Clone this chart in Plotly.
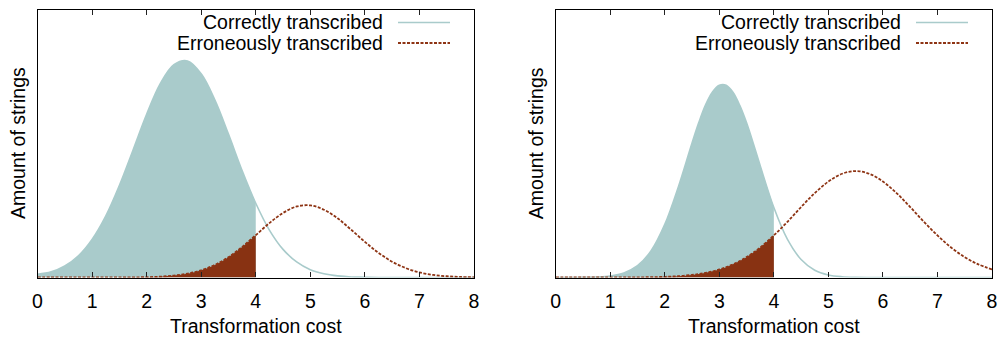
import plotly.graph_objects as go

THRESHOLD = 4.0

# Panel A: amount of strings per transformation cost
cost_a = [0, 0.25, 0.5, 0.75, 1, 1.25, 1.5, 1.75, 2, 2.25, 2.5, 2.75, 3, 3.25, 3.5, 3.75,
          4, 4.25, 4.5, 4.75, 5, 5.25, 5.5, 5.75, 6, 6.25, 6.5, 6.75, 7, 7.25, 7.5, 7.75, 8]
correct_a = [0.012, 0.021, 0.043, 0.081, 0.142, 0.229, 0.343, 0.475, 0.609, 0.723,
             0.794, 0.808, 0.760, 0.663, 0.535, 0.399, 0.277, 0.177, 0.105, 0.058,
             0.029, 0.014, 0.006, 0.002, 0.001, 0.0, 0.0, 0.0, 0.0, 0.0,
             0.0, 0.0, 0.0]
erroneous_a = [0.0, 0.0, 0.0, 0.0, 0.0, 0.0001, 0.0002, 0.0005, 0.0013, 0.0032,
               0.0071, 0.0144, 0.027, 0.047, 0.076, 0.114, 0.158, 0.203, 0.241, 0.265,
               0.269, 0.253, 0.221, 0.178, 0.133, 0.092, 0.059, 0.035, 0.019, 0.0097,
               0.0046, 0.002, 0.0008]

# Panel B (denser sampling around the narrow peak)
cost_b = [0, 0.25, 0.5, 0.75, 1, 1.25, 1.5, 1.75, 2, 2.25, 2.5, 2.625, 2.75, 2.875, 3,
          3.125, 3.25, 3.375, 3.5, 3.625, 3.75, 4, 4.25, 4.5, 4.75, 5, 5.25, 5.5, 5.75,
          6, 6.25, 6.5, 6.75, 7, 7.25, 7.5, 7.75, 8]
correct_b = [0.0, 0.0, 0.0004, 0.0016, 0.0055, 0.017, 0.044, 0.100, 0.198, 0.339,
             0.502, 0.579, 0.645, 0.692, 0.717, 0.717, 0.691, 0.642, 0.577, 0.499,
             0.417, 0.261, 0.142, 0.067, 0.027, 0.0096, 0.003, 0.0008, 0.0002, 0.0,
             0.0, 0.0, 0.0, 0.0, 0.0, 0.0, 0.0, 0.0]
erroneous_b = [0.0, 0.0, 0.0, 0.0, 0.0001, 0.0002, 0.0005, 0.0012, 0.0025, 0.005,
               0.0096, 0.013, 0.0174, 0.023, 0.030, 0.0386, 0.049, 0.0614, 0.076, 0.0929,
               0.112, 0.157, 0.208, 0.263, 0.315, 0.358, 0.387, 0.397, 0.387, 0.358,
               0.315, 0.263, 0.208, 0.157, 0.112, 0.076, 0.049, 0.030]

TICKS = [0, 1, 2, 3, 4, 5, 6, 7, 8]
LEGEND_LABELS = ["Correctly transcribed", "Erroneously transcribed"]
X_TITLE = "Transformation cost"
Y_TITLE = "Amount of strings"

TEAL = "#a9cbcb"
RUST_FILL = "#883212"
RUST_LINE = "#8e3414"
DASH = "3px,1.5px"
FONT = "Liberation Sans, Arial, sans-serif"
FS = 19.5
SMOOTH = 1.0

W, H = 1001, 338


def px(x):
    return x / W


def py(y):
    return 1 - y / H


panels = [
    dict(cost=cost_a, correct=correct_a, erroneous=erroneous_a, xa="x", ya="y",
         left=37.5, right=474.0),
    dict(cost=cost_b, correct=correct_b, erroneous=erroneous_b, xa="x2", ya="y2",
         left=555.7, right=992.0),
]

fig = go.Figure()

for p in panels:
    n_fill = sum(1 for c in p["cost"] if c <= THRESHOLD)
    xs_fill = p["cost"][:n_fill]
    fig.add_trace(go.Scatter(
        x=xs_fill, y=p["correct"][:n_fill], xaxis=p["xa"], yaxis=p["ya"],
        mode="lines", line=dict(width=0, shape="spline", smoothing=SMOOTH, color=TEAL),
        fill="tozeroy", fillcolor=TEAL, showlegend=False, hoverinfo="skip"))
    fig.add_trace(go.Scatter(
        x=xs_fill, y=p["erroneous"][:n_fill], xaxis=p["xa"], yaxis=p["ya"],
        mode="lines", line=dict(width=0, shape="spline", smoothing=SMOOTH, color=RUST_FILL),
        fill="tozeroy", fillcolor=RUST_FILL, showlegend=False, hoverinfo="skip"))
    fig.add_trace(go.Scatter(
        x=p["cost"], y=p["correct"], xaxis=p["xa"], yaxis=p["ya"],
        mode="lines", line=dict(width=1.6, shape="spline", smoothing=SMOOTH, color=TEAL),
        showlegend=False))
    fig.add_trace(go.Scatter(
        x=p["cost"], y=p["erroneous"], xaxis=p["xa"], yaxis=p["ya"],
        mode="lines", line=dict(width=1.8, shape="spline", smoothing=SMOOTH,
                                color=RUST_LINE, dash=DASH),
        showlegend=False))

y_dom = [py(277.5), py(9.5)]
axis_common = dict(
    range=[0, 8], tickvals=TICKS, ticks="inside", ticklen=5, tickwidth=1,
    tickcolor="#222", showline=True, linecolor="black", linewidth=1.3,
    mirror="ticks", showgrid=False, zeroline=False, automargin=False,
    tickfont=dict(family=FONT, size=FS, color="black"), ticklabelstandoff=6,
)
yaxis_common = dict(
    range=[0, 1], showticklabels=False, ticks="", showline=True,
    linecolor="black", linewidth=1.3, mirror=True, showgrid=False,
    zeroline=False, domain=y_dom, automargin=False,
)

fig.update_layout(
    width=W, height=H, margin=dict(l=0, r=0, t=0, b=0, autoexpand=False),
    paper_bgcolor="white", plot_bgcolor="white", showlegend=False,
    xaxis=dict(domain=[px(panels[0]["left"]), px(panels[0]["right"])],
               anchor="y", **axis_common),
    yaxis=dict(anchor="x", **yaxis_common),
    xaxis2=dict(domain=[px(panels[1]["left"]), px(panels[1]["right"])],
                anchor="y2", **axis_common),
    yaxis2=dict(anchor="x2", **yaxis_common),
)

annotations = []
shapes = []
for p in panels:
    cx = (p["left"] + p["right"]) / 2
    annotations.append(dict(
        text=X_TITLE, x=px(cx), y=py(326), xref="paper", yref="paper",
        xanchor="center", yanchor="middle", showarrow=False,
        font=dict(family=FONT, size=FS, color="black")))
    annotations.append(dict(
        text=Y_TITLE, x=px(p["left"] - 19.5), y=py(143), xref="paper", yref="paper",
        xanchor="center", yanchor="middle", showarrow=False, textangle=-90,
        font=dict(family=FONT, size=FS, color="black")))
    # key block in the upper-right corner
    for i, (label, color, dash, width) in enumerate(zip(
            LEGEND_LABELS, [TEAL, RUST_LINE], ["solid", DASH], [1.6, 1.8])):
        ky = 22.5 + i * 20.5
        annotations.append(dict(
            text=label, x=px(p["right"] - 89), y=py(ky), xref="paper", yref="paper",
            xanchor="right", yanchor="middle", showarrow=False,
            font=dict(family=FONT, size=FS, color="black")))
        shapes.append(dict(
            type="line", xref="paper", yref="paper",
            x0=px(p["right"] - 76), x1=px(p["right"] - 24), y0=py(ky), y1=py(ky),
            line=dict(color=color, width=width, dash=dash)))

fig.update_layout(annotations=annotations, shapes=shapes)
fig.write_html("out.html")
